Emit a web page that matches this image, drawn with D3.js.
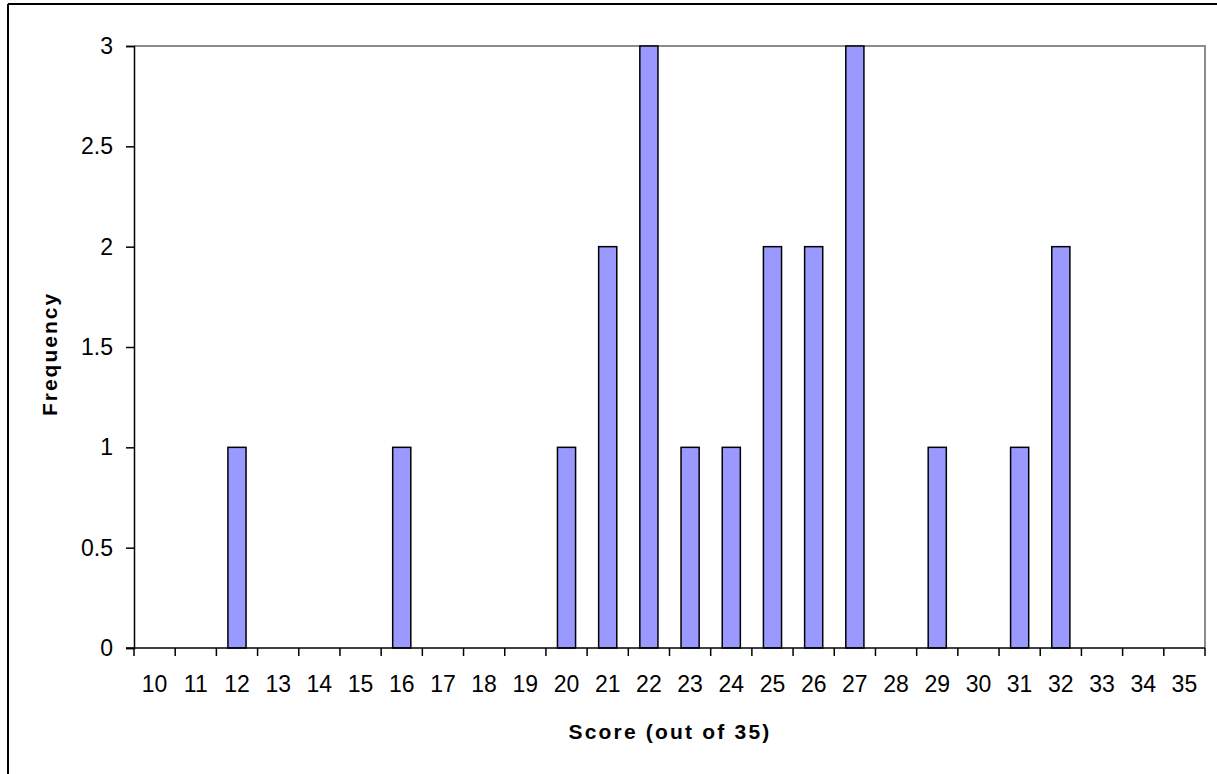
<!DOCTYPE html>
<html>
<head>
<meta charset="utf-8">
<script src="https://cdn.jsdelivr.net/npm/d3@7"></script>
<style>
  body { margin: 0; background: #fff; }
  text { font-family: "Liberation Sans", Arial, sans-serif; fill: #000; }
</style>
</head>
<body>
<div id="chart"></div>
<script>
// scores 10..35 and how many students got each
var scores = [10,11,12,13,14,15,16,17,18,19,20,21,22,23,24,25,26,27,28,29,30,31,32,33,34,35];
var freq   = [ 0, 0, 1, 0, 0, 0, 1, 0, 0, 0, 1, 2, 3, 1, 1, 2, 2, 3, 0, 1, 0, 1, 2, 0, 0, 0];
var yTicks = [0, 0.5, 1, 1.5, 2, 2.5, 3];

var W = 1217, H = 774;
var margin = {top: 46, right: 12, bottom: 126, left: 134};

var svg = d3.select("#chart").append("svg")
    .attr("width", W).attr("height", H);

// outer chart frame (only top and left visible)
svg.append("line").attr("x1", 8).attr("x2", W).attr("y1", 4).attr("y2", 4)
    .attr("stroke", "#000").attr("stroke-width", 2);
svg.append("line").attr("x1", 8).attr("x2", 8).attr("y1", 4).attr("y2", H)
    .attr("stroke", "#000").attr("stroke-width", 2);

var x = d3.scaleBand()
    .domain(scores)
    .range([margin.left, W - margin.right])
    .paddingInner(0.56)
    .paddingOuter(0.28);

var y = d3.scaleLinear()
    .domain([0, 3])
    .range([H - margin.bottom, margin.top]);

var g = svg.append("g");

// plot area border - top & right grey
g.append("path")
    .attr("d", "M" + margin.left + "," + margin.top + "H" + (W - margin.right) + "V" + (H - margin.bottom))
    .attr("fill", "none").attr("stroke", "#8c8c8c").attr("stroke-width", 2);

var rows = scores.map(function(s, i){ return {score: s, n: freq[i]}; })
    .filter(function(d){ return d.n > 0; });

// bars
g.selectAll("rect.bar")
    .data(rows)
    .enter()
    .append("rect")
    .attr("class", "bar")
    .attr("x", function(d){ return x(d.score); })
    .attr("y", function(d){ return y(d.n); })
    .attr("width", x.bandwidth())
    .attr("height", function(d){ return y(0) - y(d.n); })
    .attr("fill", "#9999ff")
    .attr("stroke", "#000")
    .attr("stroke-width", 1.5);

// x axis: ticks on category boundaries
var step = x.step();
var xAxisG = svg.append("g").attr("transform", "translate(0," + y(0) + ")");
xAxisG.append("line").attr("x1", margin.left - 8).attr("x2", W - margin.right)
    .attr("stroke", "#000").attr("stroke-width", 1.5);
xAxisG.selectAll("line.tick")
    .data(d3.range(scores.length + 1))
    .enter().append("line")
    .attr("x1", function(i){ return margin.left + i * step; })
    .attr("x2", function(i){ return margin.left + i * step; })
    .attr("y1", 0).attr("y2", 8)
    .attr("stroke", "#000").attr("stroke-width", 1.5);
xAxisG.selectAll("text")
    .data(scores)
    .enter().append("text")
    .attr("x", function(d){ return x(d) + x.bandwidth() / 2; })
    .attr("y", 44)
    .attr("text-anchor", "middle")
    .style("font-size", "23px")
    .text(function(d){ return d; });

// y axis
var yAxis = d3.axisLeft(y).tickValues(yTicks).tickSize(8).tickPadding(13)
    .tickFormat(function(d){ return d; });
var yAxisG = svg.append("g")
    .attr("transform", "translate(" + margin.left + ",0)")
    .call(yAxis);
yAxisG.select(".domain").attr("stroke", "#000").attr("stroke-width", 1.5);
yAxisG.selectAll(".tick line").attr("stroke", "#000").attr("stroke-width", 1.5);
yAxisG.selectAll(".tick text")
    .style("font-size", "23px")
    .style("font-family", "'Liberation Sans', Arial, sans-serif")
    .attr("fill", "#000");

// axis titles
svg.append("text")
    .attr("x", 670)
    .attr("y", 739)
    .attr("text-anchor", "middle")
    .style("font-size", "21px")
    .style("font-weight", "bold")
    .style("letter-spacing", "2.2px")
    .text("Score (out of 35)");

svg.append("text")
    .attr("transform", "translate(57,354) rotate(-90)")
    .attr("text-anchor", "middle")
    .style("font-size", "21px")
    .style("font-weight", "bold")
    .style("letter-spacing", "2px")
    .text("Frequency");
</script>
</body>
</html>
